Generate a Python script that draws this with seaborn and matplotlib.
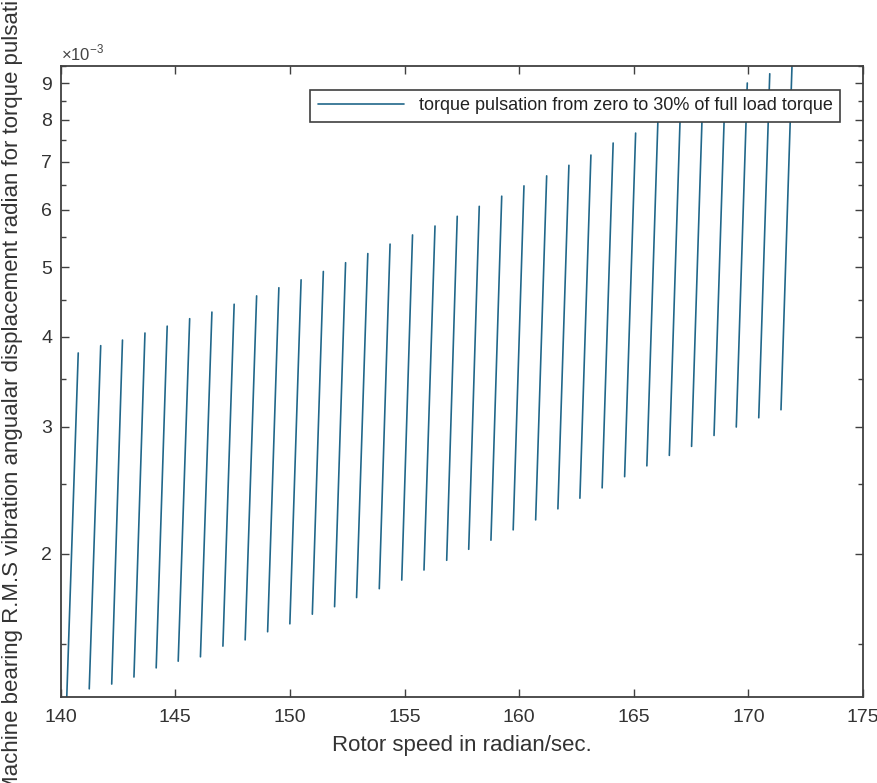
import matplotlib
matplotlib.use("Agg")
import matplotlib.pyplot as plt
import seaborn as sns
import pandas as pd
from matplotlib.lines import Line2D
from matplotlib.ticker import FixedLocator, FixedFormatter, NullFormatter

# rotor speed at start (0% torque) and end (30% torque) of each pulsation sweep
speed_low = [140.27, 141.25, 142.23, 143.20, 144.17, 145.13, 146.10, 147.08, 148.05, 149.03,
             150.00, 150.98, 151.95, 152.91, 153.90, 154.88, 155.85, 156.84, 157.80, 158.77,
             159.74, 160.72, 161.69, 162.65, 163.62, 164.60, 165.57, 166.55, 167.52, 168.50,
             169.47, 170.45, 171.42]
speed_high = [140.77, 141.75, 142.70, 143.68, 144.65, 145.63, 146.60, 147.57, 148.55, 149.52,
              150.49, 151.46, 152.43, 153.40, 154.37, 155.35, 156.33, 157.30, 158.26, 159.24,
              160.21, 161.20, 162.17, 163.13, 164.10, 165.08, 166.05, 167.03, 168.00, 168.98,
              169.95, 170.93, 171.90]
# RMS angular displacement, x 1e-3 rad
vib_low = [1.267, 1.30, 1.32, 1.35, 1.39, 1.42, 1.44, 1.49, 1.52, 1.56,
           1.60, 1.65, 1.69, 1.74, 1.79, 1.84, 1.90, 1.96, 2.03, 2.09,
           2.16, 2.23, 2.31, 2.39, 2.47, 2.56, 2.65, 2.74, 2.82, 2.92,
           3.00, 3.09, 3.17]
vib_high = [3.80, 3.89, 3.96, 4.05, 4.14, 4.24, 4.33, 4.44, 4.56, 4.68,
            4.80, 4.93, 5.07, 5.22, 5.38, 5.54, 5.70, 5.88, 6.07, 6.27,
            6.48, 6.69, 6.92, 7.15, 7.43, 7.67, 7.95, 8.22, 8.47, 8.76,
            9.00, 9.27, 9.51]

x_ticks = [140, 145, 150, 155, 160, 165, 170, 175]
y_ticks = [2, 3, 4, 5, 6, 7, 8, 9]
y_minor = [1.5, 2.5, 3.5, 4.5, 5.5, 6.5, 7.5, 8.5, 9.5]

legend_text = "torque pulsation from zero to 30% of full load torque"
y_label = "Machine bearing R.M.S vibration angualar displacement radian for torque pulsation"
x_label = "Rotor speed in radian/sec."

rows = []
for k in range(len(speed_low)):
    rows.append((k, speed_low[k], vib_low[k] * 1e-3))
    rows.append((k, speed_high[k], vib_high[k] * 1e-3))
df = pd.DataFrame(rows, columns=["segment", "speed", "vib"])

sns.set_style("ticks")
plt.rcParams["font.family"] = ["Liberation Sans", "DejaVu Sans"]
plt.rcParams["mathtext.fontset"] = "custom"
plt.rcParams["mathtext.rm"] = "Liberation Sans"

line_color = "#21678a"
axis_color = "#404040"

fig = plt.figure(figsize=(8.78, 7.83), dpi=100)
ax = fig.add_axes([0.069, 0.11, 0.914, 0.806])

sns.lineplot(data=df, x="speed", y="vib", units="segment", estimator=None, sort=False,
             color=line_color, lw=1.2, legend=False, ax=ax)
ax.set_yscale("log")
ax.set_xlim(140, 175)
ax.set_ylim(df["vib"].min(), df["vib"].max())

ax.set_xticks(x_ticks)
ax.set_xticklabels([str(t) for t in x_ticks])
ax.yaxis.set_major_locator(FixedLocator([t * 1e-3 for t in y_ticks]))
ax.yaxis.set_major_formatter(FixedFormatter([str(t) for t in y_ticks]))
ax.yaxis.set_minor_locator(FixedLocator([t * 1e-3 for t in y_minor]))
ax.yaxis.set_minor_formatter(NullFormatter())

ax.tick_params(which="both", direction="in", top=True, right=True, colors=axis_color,
               labelcolor="#333333", labelsize=14)
ax.tick_params(which="major", length=6, width=1)
ax.tick_params(axis="x", which="major", pad=9)
ax.tick_params(axis="y", which="major", pad=6)
ax.tick_params(which="minor", length=3.5, width=1)
for s in ax.spines.values():
    s.set_color(axis_color)
    s.set_linewidth(1.3)

ax.set_xlabel(x_label, fontsize=16, color="#333333", labelpad=6)
ax.set_ylabel("")
fig.text(0.014, -0.014, y_label, rotation=90, ha="center", va="bottom",
         fontsize=16, color="#333333")
ax.text(0.0, 1.004, r"$\times10^{-3}$", transform=ax.transAxes, ha="left", va="bottom",
        fontsize=12, color="#444444")

handle = Line2D([], [], color=line_color, lw=1.2)
leg = ax.legend([handle], [legend_text], loc="upper right", bbox_to_anchor=(0.971, 0.9615),
                borderaxespad=0, fancybox=False, framealpha=1, edgecolor=axis_color,
                handlelength=4.8, fontsize=13, borderpad=0.4)
leg.get_frame().set_linewidth(1.2)
for t in leg.get_texts():
    t.set_color("#222222")

plt.savefig("out.png", dpi=100)
